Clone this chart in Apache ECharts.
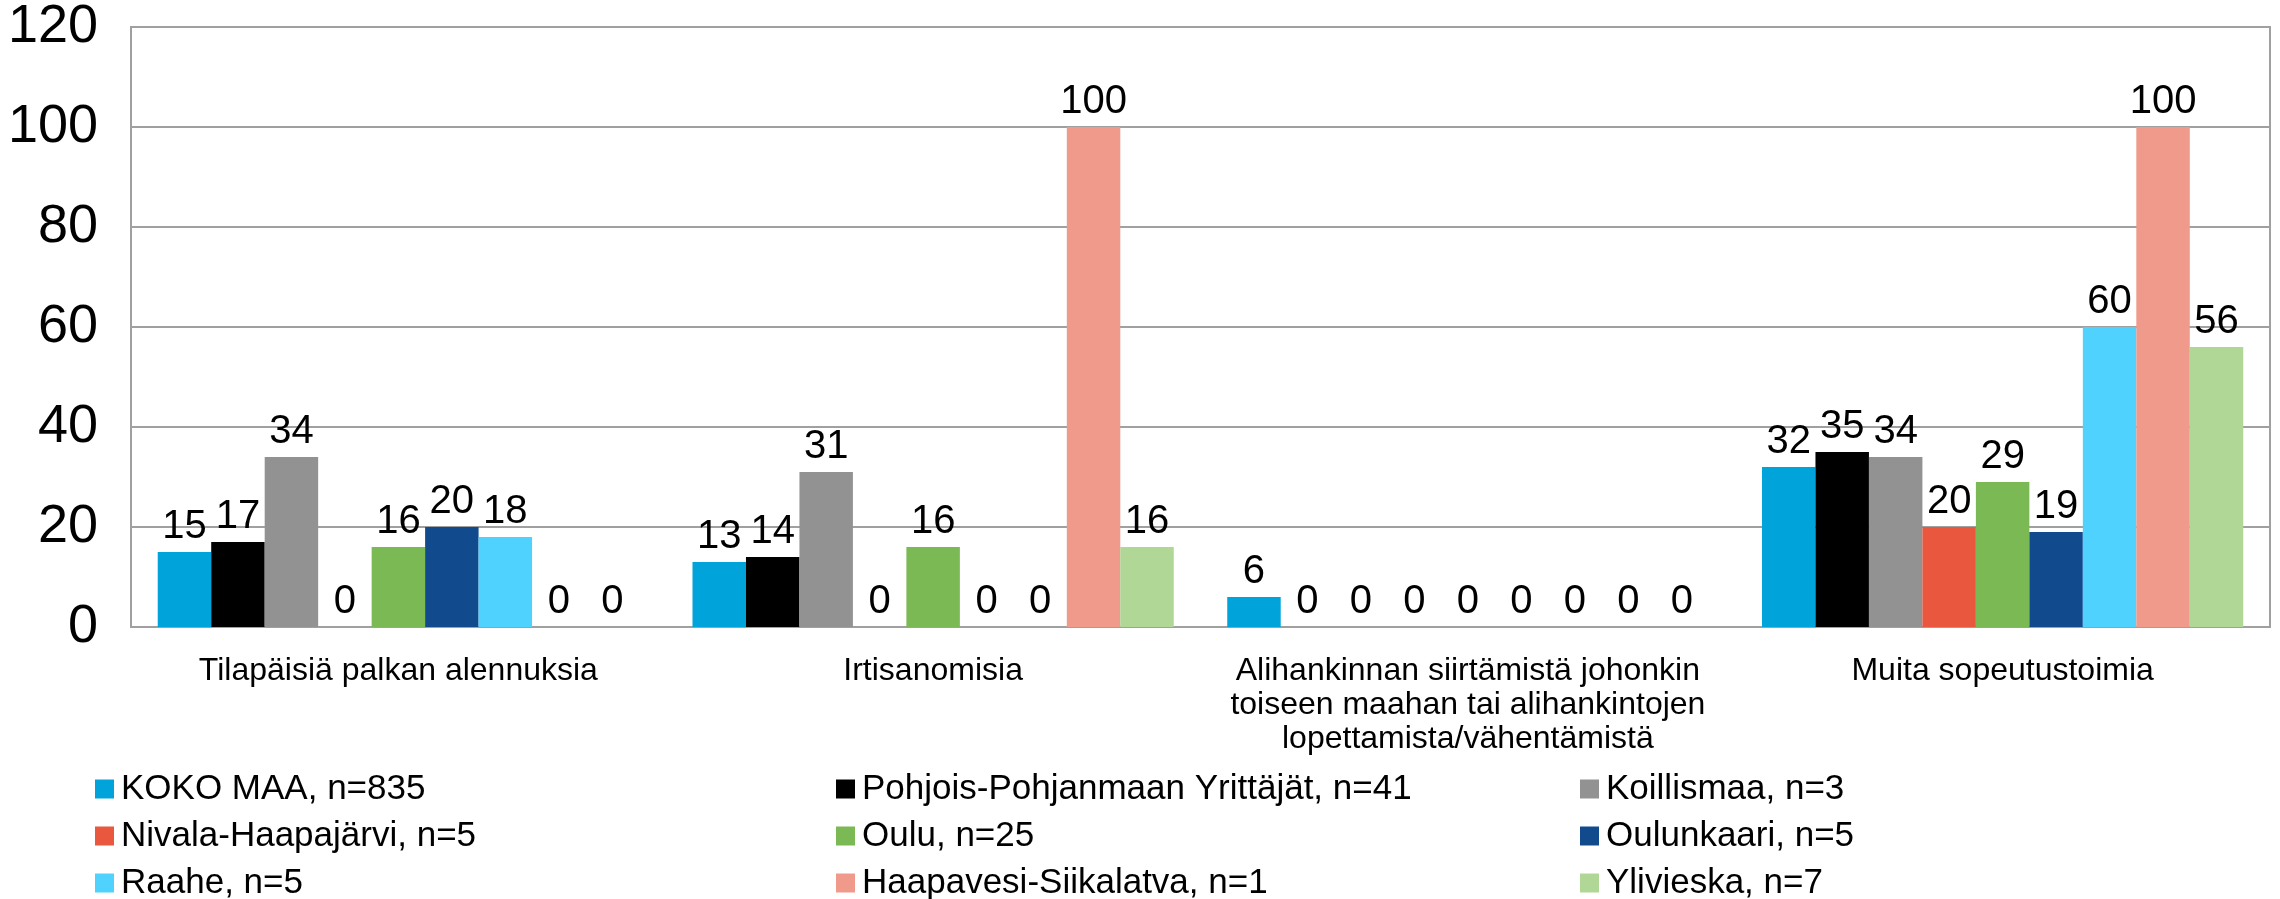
<!DOCTYPE html>
<html>
<head>
<meta charset="utf-8">
<style>
html,body{margin:0;padding:0;background:#fff;}
#chart{width:2280px;height:899px;}
</style>
<script src="https://cdn.jsdelivr.net/npm/echarts@6/dist/echarts.min.js"></script>
</head>
<body>
<div id="chart"></div>
<script>
const categories = [
  "Tilapäisiä palkan alennuksia",
  "Irtisanomisia",
  "Alihankinnan siirtämistä johonkin\ntoiseen maahan tai alihankintojen\nlopettamista/vähentämistä",
  "Muita sopeutustoimia"
];
const seriesNames = [
  "KOKO MAA, n=835",
  "Pohjois-Pohjanmaan Yrittäjät, n=41",
  "Koillismaa, n=3",
  "Nivala-Haapajärvi, n=5",
  "Oulu, n=25",
  "Oulunkaari, n=5",
  "Raahe, n=5",
  "Haapavesi-Siikalatva, n=1",
  "Ylivieska, n=7"
];
const kokoMaa      = [15, 13, 6, 32];
const pohjois      = [17, 14, 0, 35];
const koillismaa   = [34, 31, 0, 34];
const nivala       = [0, 0, 0, 20];
const oulu         = [16, 16, 0, 29];
const oulunkaari   = [20, 0, 0, 19];
const raahe        = [18, 0, 0, 60];
const haapavesi    = [0, 100, 0, 100];
const ylivieska    = [0, 16, 0, 56];
const seriesValues = [kokoMaa, pohjois, koillismaa, nivala, oulu, oulunkaari, raahe, haapavesi, ylivieska];
const colors = ["#00A3DA", "#000000", "#929292", "#E8573E", "#7AB953", "#124A8E", "#4FD2FE", "#F09A8B", "#B0D796"];
const yTicks = { min: 0, max: 120, interval: 20 };

const FONT = "'Liberation Sans', Arial, sans-serif";
const chart = echarts.init(document.getElementById('chart'));

const series = seriesNames.map((name, i) => ({
  name: name,
  type: 'bar',
  data: seriesValues[i],
  barGap: '0%',
  barCategoryGap: '10%',
  itemStyle: { color: colors[i] },
  label: {
    show: true,
    position: 'top',
    distance: 5,
    color: '#000',
    fontSize: 40,
    fontFamily: FONT
  }
}));

function legendCol(names, left) {
  return {
    orient: 'vertical',
    left: left,
    top: 766,
    height: 150,
    itemWidth: 19,
    itemHeight: 19,
    itemGap: 11,
    icon: 'rect',
    data: names,
    textStyle: { fontSize: 35, fontFamily: FONT, color: '#000', lineHeight: 36, padding: [0, 0, 0, 2] }
  };
}

chart.setOption({
  animation: false,
  color: colors,
  grid: {
    left: 131, right: 10, top: 27, bottom: 272,
    show: true, borderColor: '#A0A0A0', borderWidth: 2, backgroundColor: 'transparent'
  },
  legend: [
    legendCol([seriesNames[0], seriesNames[3], seriesNames[6]], 90),
    legendCol([seriesNames[1], seriesNames[4], seriesNames[7]], 831),
    legendCol([seriesNames[2], seriesNames[5], seriesNames[8]], 1575)
  ],
  xAxis: {
    type: 'category',
    data: categories,
    axisTick: { show: false },
    axisLine: { lineStyle: { color: '#A0A0A0', width: 2 } },
    axisLabel: {
      interval: 0,
      margin: 27,
      fontSize: 32,
      lineHeight: 34,
      fontFamily: FONT,
      color: '#000',
      align: 'center'
    }
  },
  yAxis: {
    type: 'value',
    min: yTicks.min,
    max: yTicks.max,
    interval: yTicks.interval,
    axisLine: { show: true, lineStyle: { color: '#A0A0A0', width: 2 } },
    axisTick: { show: false },
    splitLine: { lineStyle: { color: '#A0A0A0', width: 2 } },
    axisLabel: { fontSize: 54, fontFamily: FONT, color: '#000', margin: 33 }
  },
  series: series
});
</script>
</body>
</html>
